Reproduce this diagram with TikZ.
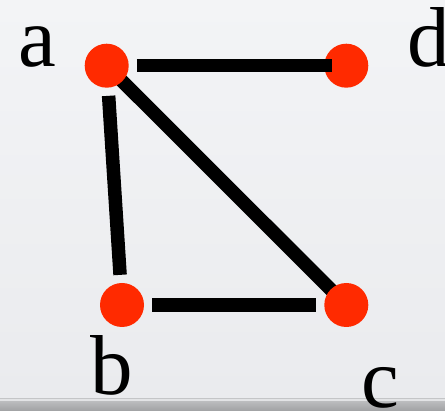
\documentclass[tikz,border=0pt]{standalone}
\usepackage{fontspec}
\setmainfont{Liberation Serif}
\usepackage{tikz}
\usetikzlibrary{positioning, calc}
\definecolor{vertexred}{RGB}{255,42,0}
\definecolor{bgtop}{RGB}{243,244,246}
\definecolor{bgbot}{RGB}{234,235,238}
\definecolor{barline}{RGB}{196,197,199}
\definecolor{barlight}{RGB}{226,227,229}
\definecolor{bartop}{RGB}{185,186,188}
\definecolor{barbot}{RGB}{160,161,163}
\pgfdeclarelayer{bg}
\pgfdeclarelayer{edges}
\pgfsetlayers{bg,edges,main}
\tikzset{
  vertex/.style={circle,fill=vertexred,draw=none,inner sep=0pt,minimum size=44pt},
  vlabel/.style={anchor=base,inner sep=0pt,font=\fontsize{85}{85}\selectfont},
  edge/.style={line width=13.5pt,line cap=butt,color=black},
  gapedge/.style={edge,shorten <=8pt,shorten >=8pt}
}

\begin{document}
\begin{tikzpicture}[x=1pt,y=-1pt]
  \useasboundingbox (0,0) rectangle (445,411);
  \begin{pgfonlayer}{bg}
    \shade[top color=bgtop,bottom color=bgbot] (0,0) rectangle (445,398);
    \fill[barline] (0,398) rectangle (445,399.5);
    \fill[barlight] (0,399.5) rectangle (445,402);
    \shade[top color=bartop,bottom color=barbot] (0,402) rectangle (445,411);
  \end{pgfonlayer}

  \node[vertex] (a) at (106.7,65.7) {};
  \node[vertex] (d) at (346.3,65.7) {};
  \node[vertex] (b) at (122,305) {};
  \node[vertex] (c) at (346.3,305) {};

  \node[vlabel] (la) at (37.5,67) {a};
  \node[vlabel] (ld) at (429,67) {d};
  \node[vlabel] (lb) at (112,395) {b};
  \node[vlabel] (lc) at (380,408) {c};

  \begin{pgfonlayer}{edges}
    \draw[edge] (a.center) -- (c.center);
  \end{pgfonlayer}
  \draw[edge,shorten <=8pt,shorten >=-8pt] (a) -- (d);
  \draw[gapedge] (a) -- (b);
  \draw[gapedge] (b) -- (c);
\end{tikzpicture}
\end{document}
